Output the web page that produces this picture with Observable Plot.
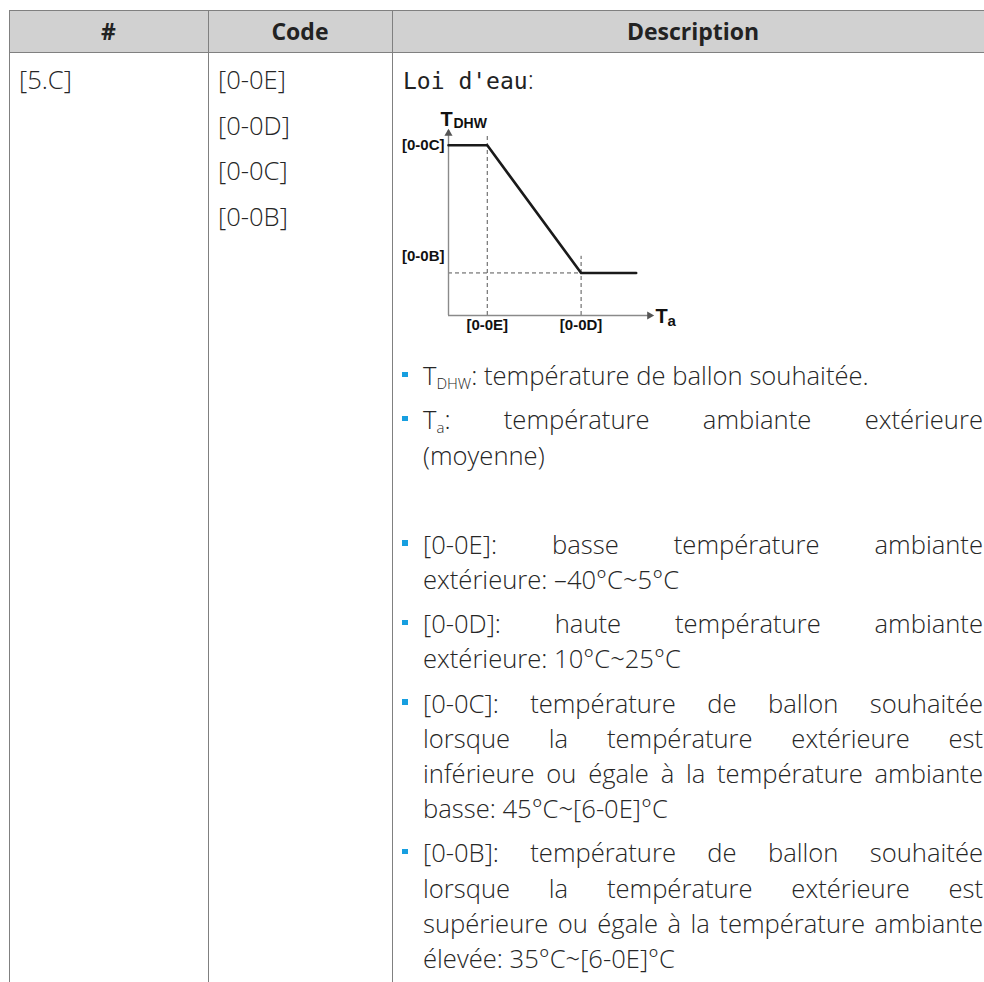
<!DOCTYPE html>
<html><head><meta charset="utf-8">
<script src="https://cdn.jsdelivr.net/npm/d3@7"></script>
<script src="https://cdn.jsdelivr.net/npm/@observablehq/plot@0.6"></script>
<style>
html,body{margin:0;padding:0;background:#fff;}
body{width:984px;height:982px;overflow:hidden;position:relative;font-family:"Open Sans",sans-serif;color:#262626;font-weight:300;}
.ln{position:absolute;background:#808080;}
.hdr{position:absolute;left:9px;top:10px;width:990px;height:43px;background:#d1d1d1;}
.hcell{position:absolute;top:10px;height:43px;line-height:43px;text-align:center;font-weight:700;font-size:23px;color:#222;}
.cell{position:absolute;font-size:25.6px;line-height:35.4px;white-space:nowrap;}
.codes div{margin-bottom:10.3px;}
.mono{font-family:"DejaVu Sans Mono",monospace;font-size:23px;color:#222;font-weight:400;}
#desc{position:absolute;left:423px;top:358px;width:560px;font-size:25.6px;line-height:35.1px;}
#desc .p{position:relative;margin-bottom:9.4px;}
#desc .p.b::before{content:"";position:absolute;left:-21px;top:13.5px;width:5.5px;height:5.5px;background:#179fe0;}
#desc .j{text-align:justify;text-align-last:justify;}
sub{font-size:15px;vertical-align:-4px;line-height:0;}
#chart{position:absolute;left:390px;top:100px;}
</style></head>
<body>
<div class="hdr"></div>
<div class="ln" style="left:9px;top:10px;width:990px;height:1px;"></div>
<div class="ln" style="left:9px;top:52px;width:990px;height:1px;"></div>
<div class="ln" style="left:9px;top:10px;width:1px;height:980px;"></div>
<div class="ln" style="left:208px;top:10px;width:1px;height:980px;"></div>
<div class="ln" style="left:392px;top:10px;width:1px;height:980px;"></div>
<div class="hcell" style="left:9px;width:199px;">#</div>
<div class="hcell" style="left:208px;width:184px;">Code</div>
<div class="hcell" style="left:392px;width:602px;">Description</div>

<div class="cell" style="left:19px;top:62px;">[5.C]</div>
<div class="cell codes" id="codes" style="left:218px;top:62px;"></div>
<div class="cell" style="left:403px;top:62px;"><span class="mono">Loi d'eau</span>:</div>
<div id="chart"></div>

<div id="desc">
  <div class="p b"><div>T<sub>DHW</sub>: température de ballon souhaitée.</div></div>
  <div class="p b"><div class="j">T<sub>a</sub>: température ambiante extérieure</div><div>(moyenne)</div></div>
  <div class="p"><div>&nbsp;</div></div>
  <div class="p b"><div class="j">[0-0E]: basse température ambiante</div><div>extérieure: –40°C~5°C</div></div>
  <div class="p b"><div class="j">[0-0D]: haute température ambiante</div><div>extérieure: 10°C~25°C</div></div>
  <div class="p b"><div class="j">[0-0C]: température de ballon souhaitée</div><div class="j">lorsque la température extérieure est</div><div class="j">inférieure ou égale à la température ambiante</div><div>basse: 45°C~[6-0E]°C</div></div>
  <div class="p b"><div class="j">[0-0B]: température de ballon souhaitée</div><div class="j">lorsque la température extérieure est</div><div class="j">supérieure ou égale à la température ambiante</div><div>élevée: 35°C~[6-0E]°C</div></div>
</div>

<script>
// Table codes
const codes = ["[0-0E]", "[0-0D]", "[0-0C]", "[0-0B]"];

// Chart values (abstract scale 0–100)
const xKeyLabels = ["[0-0E]", "[0-0D]"];
const xKeyValues = [19, 65];
const yKeyLabels = ["[0-0C]", "[0-0B]"];
const yKeyValues = [92, 23];
const curveX = [0, 19, 65, 92];
const curveY = [92, 92, 23, 23];
const dashTops = [98, 32];
const axisMax = [100, 100];

const codesEl = document.getElementById("codes");
codes.forEach(c => { const d = document.createElement("div"); d.textContent = c; codesEl.appendChild(d); });

const curve = curveX.map((x, i) => ({x, y: curveY[i]}));
const dashV = xKeyValues.map((x, i) => ({x, top: dashTops[i]}));
const xLab = xKeyLabels.map((t, i) => ({t, x: xKeyValues[i]}));
const font = "Liberation Sans, Arial, sans-serif";
const axisColor = "#8a8a8a";

const chart = Plot.plot({
  width: 300, height: 240,
  marginLeft: 58, marginRight: 38, marginTop: 30, marginBottom: 25,
  x: {domain: [0, axisMax[0]], axis: null},
  y: {domain: [0, axisMax[1]], axis: null},
  style: {background: "transparent", overflow: "visible"},
  marks: [
    Plot.ruleX(dashV, {x: "x", y1: 0, y2: "top", stroke: "#555", strokeWidth: 1, strokeDasharray: "4,3"}),
    Plot.ruleY([yKeyValues[1]], {x1: 0, x2: xKeyValues[1], stroke: "#555", strokeWidth: 1, strokeDasharray: "4,3"}),
    Plot.ruleX([0], {y1: 0, y2: axisMax[1], stroke: axisColor, strokeWidth: 1.4}),
    Plot.ruleY([0], {x1: 0, x2: axisMax[0], stroke: axisColor, strokeWidth: 1.4}),
    Plot.dot([{x: 0, y: axisMax[1]}], {x: "x", y: "y", symbol: "triangle", r: 3, fill: "#555", stroke: "none", dy: 3}),
    Plot.dot([{x: axisMax[0], y: 0}], {x: "x", y: "y", symbol: "triangle", r: 3, fill: "#555", stroke: "none", rotate: 90, dx: -3}),
    Plot.line(curve, {x: "x", y: "y", stroke: "#1a1a1a", strokeWidth: 2.6}),
    Plot.text([yKeyLabels[0]], {x: 0, y: yKeyValues[0], text: d => d, textAnchor: "end", dx: -4, fontSize: 15, fontWeight: 700, fontFamily: font, fill: "#111"}),
    Plot.text([yKeyLabels[1]], {x: 0, y: yKeyValues[1], text: d => d, textAnchor: "end", dx: -4, dy: -17, fontSize: 15, fontWeight: 700, fontFamily: font, fill: "#111"}),
    Plot.text(xLab, {x: "x", y: 0, text: "t", dy: 10, fontSize: 15, fontWeight: 700, fontFamily: font, fill: "#111"}),
    Plot.text(["T"], {x: 0, y: axisMax[1], text: d => d, textAnchor: "start", lineAnchor: "bottom", dx: -8, dy: -5, fontSize: 20, fontWeight: 700, fontFamily: font, fill: "#111"}),
    Plot.text(["DHW"], {x: 0, y: axisMax[1], text: d => d, textAnchor: "start", lineAnchor: "bottom", dx: 5, dy: -3, fontSize: 14, fontWeight: 700, fontFamily: font, fill: "#111"}),
    Plot.text(["T"], {x: axisMax[0], y: 0, text: d => d, textAnchor: "start", lineAnchor: "bottom", dx: 3, dy: 7, fontSize: 20, fontWeight: 700, fontFamily: font, fill: "#111"}),
    Plot.text(["a"], {x: axisMax[0], y: 0, text: d => d, textAnchor: "start", lineAnchor: "bottom", dx: 15, dy: 10, fontSize: 15, fontWeight: 700, fontFamily: font, fill: "#111"})
  ]
});
document.getElementById("chart").appendChild(chart);
</script>
</body></html>
